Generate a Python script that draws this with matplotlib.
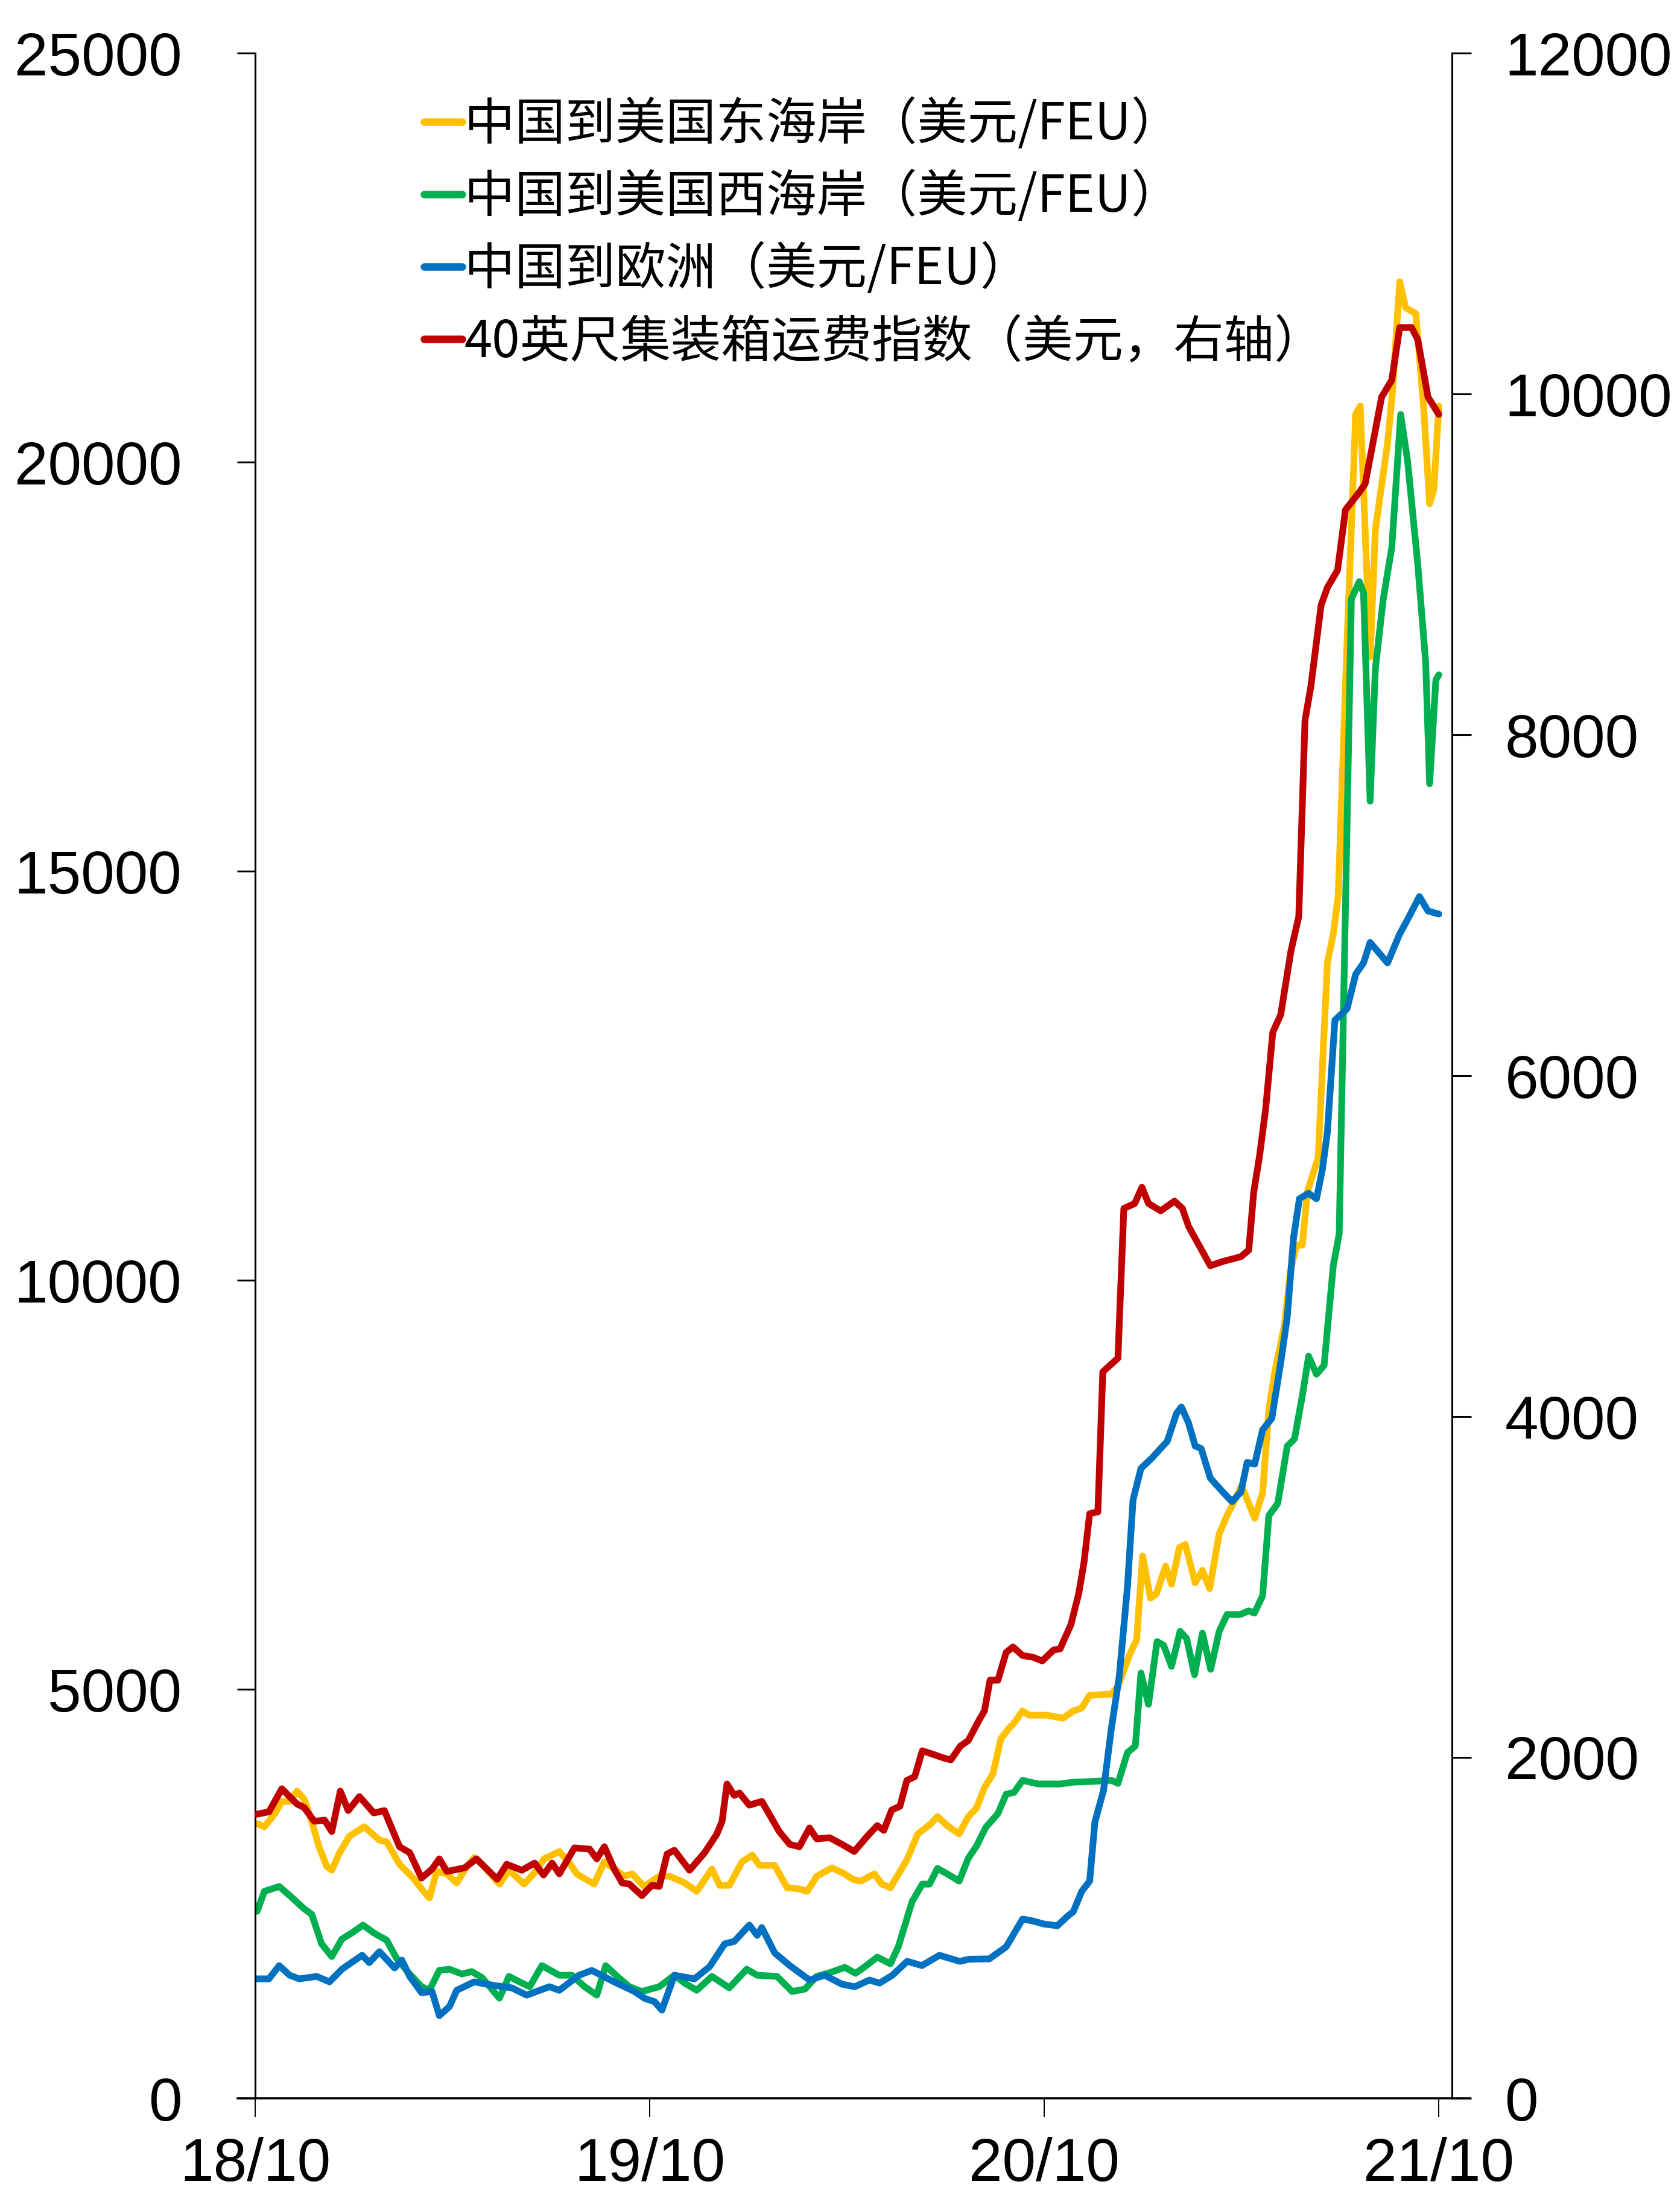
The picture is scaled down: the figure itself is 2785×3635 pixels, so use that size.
import matplotlib
matplotlib.use("Agg")
import matplotlib.pyplot as plt
from matplotlib.lines import Line2D

# ---------------- data (x = months since 2018/10) ----------------
east_x = [0.06,0.28,0.59,0.81,1.05,1.27,1.49,1.72,1.94,2.18,2.33,2.55,2.86,3.32,3.78,4.00,4.39,4.84,5.06,5.30,
          5.52,5.83,6.13,6.44,6.66,6.90,7.43,7.72,8.18,8.50,8.79,9.25,9.56,9.78,10.31,10.62,11.23,11.47,11.83,12.29,
          12.61,13.06,13.43,13.89,14.13,14.42,14.81,15.12,15.34,15.80,16.18,16.55,16.79,17.08,17.54,17.93,18.17,18.42,18.83,19.06,
          19.32,19.82,20.15,20.55,20.75,21.05,21.41,21.69,21.94,22.18,22.44,22.68,22.92,23.08,23.34,23.54,24.07,24.57,24.88,25.14,
          25.38,26.04,26.24,26.61,26.81,26.99,27.23,27.41,27.69,27.87,28.11,28.29,28.59,28.81,29.03,29.32,29.56,29.80,30.00,30.13,
          30.40,30.64,30.83,31.01,31.30,31.49,31.67,31.85,32.00,32.33,32.61,32.79,32.94,33.19,33.47,33.61,33.91,34.07,34.44,34.59,
          34.81,34.99,35.30,35.54,35.72,35.85,36.00]
east_y = [3356,3319,3474,3628,3628,3754,3658,3385,3075,2832,2788,2987,3201,3319,3156,3134,2861,2677,2559,2449,
          2773,2743,2633,2832,2943,2861,2618,2788,2618,2758,2928,3016,2876,2743,2618,2891,2714,2743,2589,2714,
          2714,2633,2530,2802,2603,2603,2891,2972,2847,2847,2574,2559,2530,2714,2817,2743,2677,2655,2743,2618,
          2574,2913,3230,3355,3444,3333,3230,3444,3547,3798,3967,4395,4520,4587,4734,4683,4683,4646,4734,4771,
          4926,4941,5037,5435,5605,6630,6114,6166,6504,6283,6733,6770,6300,6452,6230,6900,7123,7315,7485,7359,
          7090,7400,8422,8879,9439,10118,10428,10428,11077,11500,13879,14233,14700,17600,20583,20686,17618,19174,20228,20863,
          22205,21888,21814,20656,19491,19668,20686]

west_x = [0.06,0.28,0.50,0.73,1.05,1.49,1.72,2.02,2.33,2.64,2.94,3.28,3.61,4.00,4.31,4.70,5.06,5.30,5.60,5.91,
          6.29,6.59,6.90,7.43,7.72,8.04,8.35,8.72,9.25,9.63,10.02,10.39,10.66,11.01,11.38,11.76,12.29,12.75,13.06,13.43,
          13.89,14.42,14.95,15.27,15.87,16.33,16.72,17.08,17.47,17.93,18.26,18.59,18.92,19.32,19.56,19.98,20.29,20.51,20.75,21.05,
          21.41,21.69,21.94,22.22,22.59,22.84,23.08,23.34,23.82,24.48,24.88,25.30,26.04,26.24,26.53,26.77,26.94,27.17,27.43,27.63,
          27.87,28.13,28.33,28.57,28.81,29.06,29.32,29.56,29.96,30.22,30.39,30.64,30.83,31.10,31.39,31.61,31.85,32.04,32.28,32.51,
          32.79,32.97,33.34,33.58,33.71,33.91,34.07,34.31,34.57,34.84,35.05,35.36,35.60,35.72,35.91,36.00]
west_y = [2286,2530,2559,2589,2478,2316,2249,1888,1733,1947,2021,2117,2021,1932,1704,1519,1364,1320,1563,1578,
          1519,1549,1475,1224,1490,1423,1364,1622,1504,1504,1364,1261,1622,1490,1364,1305,1364,1504,1408,1320,
          1490,1350,1578,1504,1490,1305,1335,1490,1534,1600,1527,1622,1726,1644,1851,2404,2618,2618,2810,2743,
          2655,2935,3083,3311,3481,3717,3739,3886,3842,3842,3864,3870,3886,3849,4226,4307,5199,4816,5583,5538,
          5280,5708,5620,5177,5686,5243,5708,5914,5914,5959,5930,6143,7123,7271,7972,8060,8591,9071,8850,8960,
          10177,10568,18326,18540,18400,15855,17478,18326,18960,20583,20015,18746,17552,16069,17337,17400]

eu_x = [0.06,0.42,0.73,1.05,1.34,1.87,2.26,2.64,3.25,3.47,3.78,4.24,4.46,4.70,5.06,5.38,5.60,5.91,6.13,6.66,
        7.27,7.80,8.26,8.95,9.25,9.85,10.24,10.92,11.54,11.83,12.15,12.37,12.75,13.36,13.82,14.28,14.57,15.03,15.27,15.41,
        15.80,16.26,16.86,17.32,17.85,18.24,18.68,18.99,19.38,19.83,20.28,20.81,21.43,21.72,22.33,22.84,23.34,23.65,23.98,24.40,
        24.73,24.88,25.14,25.38,25.54,25.80,26.04,26.28,26.53,26.70,26.94,27.27,27.74,28.02,28.17,28.39,28.59,28.77,29.05,29.43,
        29.71,29.98,30.17,30.40,30.64,30.92,31.19,31.39,31.58,31.76,32.04,32.28,32.46,32.61,32.84,33.21,33.47,33.71,33.91,34.44,
        34.81,35.05,35.41,35.67,36.00]
eu_y = [1460,1460,1622,1504,1460,1490,1423,1578,1748,1659,1792,1593,1689,1490,1291,1305,1010,1121,1320,1423,
        1379,1350,1261,1364,1320,1504,1563,1423,1305,1224,1180,1077,1504,1460,1608,1888,1917,2117,1991,2087,
        1777,1622,1445,1504,1394,1364,1445,1408,1504,1674,1622,1748,1674,1700,1704,1851,2190,2168,2131,2109,
        2234,2279,2530,2655,3377,3761,4520,5155,6254,7315,7699,7825,8031,8370,8451,8252,7972,7943,7581,7411,
        7293,7411,7773,7751,8171,8311,8990,9550,10516,10996,11062,10996,11357,11807,13179,13319,13739,13879,14129,13879,
        14233,14410,14690,14513,14476]

idx_x = [0.06,0.42,0.81,1.27,1.49,1.80,2.11,2.33,2.59,2.83,3.17,3.61,3.93,4.39,4.70,5.06,5.38,5.60,5.83,6.37,
         6.73,7.36,7.65,8.11,8.50,8.77,9.03,9.25,9.71,10.17,10.39,10.62,10.92,11.16,11.38,11.76,12.07,12.29,12.53,12.75,
         13.21,13.67,14.04,14.20,14.35,14.57,14.73,15.03,15.41,15.94,16.26,16.55,16.86,17.08,17.47,17.85,18.22,18.61,18.92,19.12,
         19.36,19.61,19.82,20.06,20.29,20.62,20.95,21.16,21.45,21.69,22.02,22.18,22.35,22.59,22.84,23.05,23.34,23.65,23.94,24.28,
         24.48,24.81,25.05,25.21,25.38,25.63,25.78,26.24,26.42,26.75,26.97,27.17,27.54,27.96,28.20,28.39,29.05,29.43,29.98,30.22,
         30.37,30.55,30.73,30.95,31.19,31.50,31.74,31.93,32.11,32.42,32.61,32.92,33.16,33.58,33.76,34.26,34.57,34.81,35.17,35.36,
         35.67,36.00]
idx_y = [1667,1681,1816,1727,1706,1625,1632,1565,1802,1688,1770,1674,1688,1476,1441,1292,1345,1405,1331,1352,
         1405,1285,1373,1338,1380,1310,1380,1317,1469,1462,1405,1476,1345,1264,1257,1189,1250,1243,1434,1455,
         1338,1441,1550,1625,1844,1777,1791,1720,1742,1565,1490,1476,1586,1522,1529,1490,1448,1536,1600,1572,
         1692,1713,1865,1887,2039,2018,1996,1986,2067,2099,2220,2273,2453,2453,2616,2648,2598,2588,2566,2630,
         2637,2779,2963,3147,3430,3441,4262,4343,5221,5250,5345,5250,5207,5264,5221,5115,4885,4910,4938,4977,
         5317,5533,5800,6255,6357,6729,6934,8085,8287,8761,8864,8966,9320,9423,9473,9982,10082,10390,10390,10319,
         9982,9880]

labels = ["中国到美国东海岸（美元/FEU）", "中国到美国西海岸（美元/FEU）",
          "中国到欧洲（美元/FEU）", "40英尺集装箱运费指数（美元，右轴）"]
colors = ["#FFC000", "#00B050", "#0070C0", "#C00000"]
x_ticks = [0, 12, 24, 36]
x_ticklabels = ["18/10", "19/10", "20/10", "21/10"]
left_ticks = [0, 5000, 10000, 15000, 20000, 25000]
right_ticks = [0, 2000, 4000, 6000, 8000, 10000, 12000]

# ---------------- figure ----------------
plt.rcParams['font.family'] = ['Liberation Sans', 'DejaVu Sans']
W, H, DPI = 2785, 3635, 100
fig = plt.figure(figsize=(W / DPI, H / DPI), dpi=DPI)
ax = fig.add_axes([423 / W, 1 - 3478 / H, (2407 - 423) / W, (3478 - 88) / H])
ax2 = ax.twinx()

lw = 8
kw = dict(lw=lw, solid_capstyle='round', solid_joinstyle='round')
l1, = ax.plot(east_x, east_y, color=colors[0], **kw)
l2, = ax.plot(west_x, west_y, color=colors[1], **kw)
l3, = ax.plot(eu_x, eu_y, color=colors[2], **kw)
l4, = ax2.plot(idx_x, idx_y, color=colors[3], **kw)

ax.set_xlim(0, 36.4)
ax.set_ylim(0, 25000)
ax2.set_ylim(0, 12000)
ax.set_xticks(x_ticks)
ax.set_xticklabels(x_ticklabels)
ax.set_yticks(left_ticks)
ax.set_yticklabels([str(v) for v in left_ticks])
ax2.set_yticks(right_ticks)
ax2.set_yticklabels([str(v) for v in right_ticks])

for a in (ax, ax2):
    for s in a.spines.values():
        s.set_linewidth(2.2)
    a.spines['top'].set_visible(False)
    a.spines['bottom'].set_visible(False)
ax.spines['right'].set_visible(False)
ax2.spines['left'].set_visible(False)

ax.tick_params(axis='y', direction='out', length=21.5, width=2.2, labelsize=72, pad=66)
ax.tick_params(axis='x', direction='out', length=22, width=1.4, labelsize=72, pad=24)
ax2.tick_params(axis='y', direction='out', length=23, width=2.2, labelsize=72, pad=40)

# thick baseline extending slightly past both vertical axes
w_ax = 2407 - 423
base = Line2D([-29 / w_ax, 1 + 30 / w_ax], [0, 0], transform=ax.transAxes,
              color='black', lw=2.6, clip_on=False, zorder=5)
ax.add_line(base)

leg = ax2.legend([l1, l2, l3, l4], labels, loc='upper left',
                 bbox_to_anchor=(703 / W, 1 - 164 / H), bbox_transform=fig.transFigure,
                 frameon=False, borderpad=0, borderaxespad=0,
                 handlelength=0.75, handletextpad=0.05, labelspacing=0.40,
                 prop={'family': ['Noto Sans CJK SC', 'DejaVu Sans'], 'size': 60})
for h in leg.legend_handles:
    h.set_linewidth(9)
    h.set_solid_capstyle('round')

fig.savefig("out.png", dpi=DPI)
